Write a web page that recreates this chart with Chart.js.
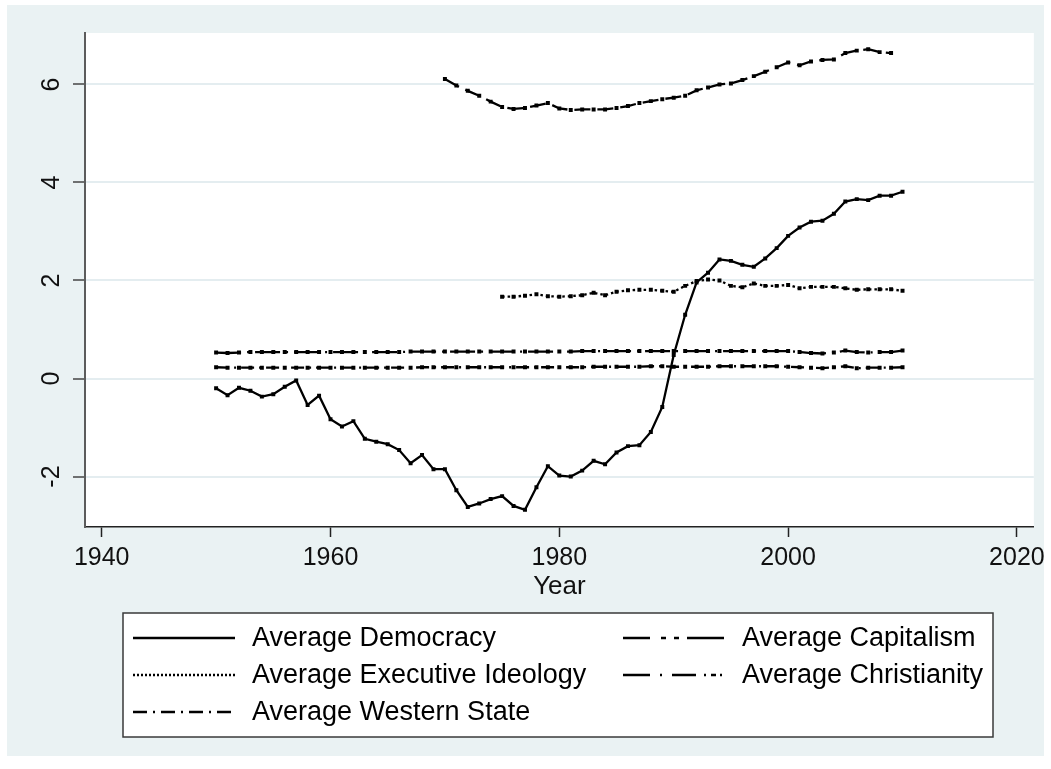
<!DOCTYPE html>
<html>
<head>
<meta charset="utf-8">
<script src="https://cdn.jsdelivr.net/npm/chart.js@4.4.1/dist/chart.umd.min.js"></script>
<style>
  html, body { margin: 0; padding: 0; background: #ffffff; }
  canvas { display: block; }
</style>
</head>
<body>
<canvas id="chart" width="1051" height="769"></canvas>
<script>
// Years covered by the full-length series
const years = [1950,1951,1952,1953,1954,1955,1956,1957,1958,1959,
               1960,1961,1962,1963,1964,1965,1966,1967,1968,1969,
               1970,1971,1972,1973,1974,1975,1976,1977,1978,1979,
               1980,1981,1982,1983,1984,1985,1986,1987,1988,1989,
               1990,1991,1992,1993,1994,1995,1996,1997,1998,1999,
               2000,2001,2002,2003,2004,2005,2006,2007,2008,2009,2010];

const democracy = [-0.20,-0.34,-0.19,-0.25,-0.37,-0.32,-0.17,-0.04,-0.54,-0.35,
                   -0.83,-0.98,-0.87,-1.23,-1.29,-1.34,-1.46,-1.73,-1.56,-1.85,
                   -1.85,-2.28,-2.62,-2.55,-2.46,-2.40,-2.60,-2.68,-2.22,-1.79,
                   -1.98,-2.00,-1.88,-1.68,-1.75,-1.51,-1.38,-1.36,-1.09,-0.58,
                    0.48, 1.30, 1.96, 2.16, 2.43, 2.40, 2.32, 2.28, 2.45, 2.66,
                    2.91, 3.08, 3.20, 3.22, 3.36, 3.61, 3.66, 3.64, 3.73, 3.73, 3.81];

const christianity = [0.53,0.52,0.53,0.54,0.54,0.54,0.54,0.54,0.54,0.54,
                      0.54,0.54,0.54,0.54,0.54,0.54,0.54,0.55,0.55,0.55,
                      0.55,0.55,0.55,0.55,0.55,0.55,0.55,0.55,0.55,0.55,
                      0.55,0.55,0.56,0.56,0.56,0.56,0.56,0.56,0.56,0.56,
                      0.56,0.56,0.56,0.56,0.56,0.56,0.56,0.56,0.56,0.56,
                      0.56,0.54,0.52,0.51,0.53,0.57,0.54,0.53,0.54,0.54,0.57];

const westernState = [0.23,0.22,0.22,0.22,0.22,0.22,0.22,0.22,0.22,0.22,
                      0.22,0.22,0.22,0.22,0.22,0.22,0.22,0.22,0.23,0.23,
                      0.23,0.23,0.23,0.23,0.23,0.23,0.23,0.23,0.23,0.23,
                      0.23,0.23,0.23,0.24,0.24,0.24,0.24,0.24,0.25,0.25,
                      0.24,0.24,0.24,0.24,0.25,0.25,0.25,0.25,0.25,0.25,
                      0.24,0.23,0.22,0.21,0.23,0.25,0.21,0.22,0.22,0.22,0.23];

const capitalismYears = [1970,1971,1972,1973,1974,1975,1976,1977,1978,1979,
                         1980,1981,1982,1983,1984,1985,1986,1987,1988,1989,
                         1990,1991,1992,1993,1994,1995,1996,1997,1998,1999,
                         2000,2001,2002,2003,2004,2005,2006,2007,2008,2009];
const capitalism = [6.11,5.98,5.87,5.77,5.65,5.54,5.50,5.52,5.57,5.62,
                    5.51,5.48,5.49,5.49,5.49,5.52,5.56,5.62,5.66,5.70,
                    5.73,5.77,5.88,5.94,6.00,6.02,6.09,6.17,6.26,6.35,
                    6.45,6.39,6.47,6.50,6.51,6.64,6.69,6.72,6.66,6.64];

const ideologyYears = [1975,1976,1977,1978,1979,1980,1981,1982,1983,1984,
                       1985,1986,1987,1988,1989,1990,1991,1992,1993,1994,
                       1995,1996,1997,1998,1999,2000,2001,2002,2003,2004,
                       2005,2006,2007,2008,2009,2010];
const executiveIdeology = [1.67,1.67,1.69,1.72,1.68,1.67,1.68,1.70,1.75,1.70,
                           1.77,1.80,1.81,1.81,1.79,1.77,1.89,1.99,2.02,2.00,
                           1.89,1.86,1.94,1.89,1.89,1.91,1.84,1.87,1.87,1.87,
                           1.84,1.81,1.82,1.82,1.82,1.79];

const xTicks = [1940, 1960, 1980, 2000, 2020];
const yTicks = [-2, 0, 2, 4, 6];
const seriesNames = ['Average Democracy', 'Average Capitalism', 'Average Executive Ideology',
                     'Average Christianity', 'Average Western State'];

// Line patterns: one for the plotted series, one for the short key samples
const plotDashes = [[], [16, 7], [2.5, 3], [25, 6, 2, 6], [13, 5, 2, 5]];
const keyDashes = [[], [27, 11, 5, 8, 5, 8, 40], [2, 2], [27, 10, 2, 10, 24, 8, 2, 5, 5, 4, 2], [14, 6, 2, 6]];

const FONT = '"Liberation Sans", Arial, Helvetica, sans-serif';

function points(xs, ys) {
  return xs.map((x, i) => ({ x: x, y: ys[i] }));
}

function series(i, data) {
  return {
    label: seriesNames[i],
    data: data,
    borderColor: '#000000',
    backgroundColor: '#000000',
    borderWidth: 2.3,
    borderDash: plotDashes[i],
    pointStyle: 'rect',
    pointRadius: 2.8,
    pointBorderWidth: 0,
    pointBackgroundColor: '#000000',
    tension: 0,
    fill: false
  };
}

// Panel backgrounds: white page, light blue-grey graph region, white plot region
const backdrop = {
  id: 'backdrop',
  beforeDraw(chart) {
    const ctx = chart.ctx, a = chart.chartArea;
    ctx.save();
    ctx.fillStyle = '#ffffff';
    ctx.fillRect(0, 0, chart.width, chart.height);
    ctx.fillStyle = '#EAF2F3';
    ctx.fillRect(7, 5, 1037, 751);
    ctx.fillStyle = '#ffffff';
    ctx.fillRect(a.left, a.top, a.right - a.left, a.bottom - a.top);
    ctx.restore();
  }
};

// Boxed two-column key under the axis title
const boxedKey = {
  id: 'boxedKey',
  afterDraw(chart) {
    const ctx = chart.ctx;
    const box = { left: 123, top: 613, right: 993, bottom: 737 };
    const rows = [638, 675, 712];
    const cols = [{ x0: 133, x1: 235, tx: 252 }, { x0: 623, x1: 724, tx: 742 }];
    const order = [[0, 0], [0, 1], [1, 0], [1, 1], [2, 0]];
    ctx.save();
    ctx.fillStyle = '#ffffff';
    ctx.fillRect(box.left, box.top, box.right - box.left, box.bottom - box.top);
    ctx.strokeStyle = '#3a3a3a';
    ctx.lineWidth = 1.5;
    ctx.strokeRect(box.left, box.top, box.right - box.left, box.bottom - box.top);
    ctx.font = '27px ' + FONT;
    ctx.textBaseline = 'middle';
    ctx.textAlign = 'left';
    ctx.fillStyle = '#000000';
    chart.data.datasets.forEach((ds, i) => {
      const [r, c] = order[i];
      const y = rows[r], col = cols[c];
      ctx.strokeStyle = ds.borderColor;
      ctx.lineWidth = 2.3;
      ctx.setLineDash(keyDashes[i]);
      ctx.beginPath();
      ctx.moveTo(col.x0, y);
      ctx.lineTo(col.x1, y);
      ctx.stroke();
      ctx.setLineDash([]);
      ctx.fillText(ds.label, col.tx, y + 1);
    });
    ctx.restore();
  }
};

new Chart(document.getElementById('chart'), {
  type: 'line',
  data: {
    datasets: [
      series(0, points(years, democracy)),
      series(1, points(capitalismYears, capitalism)),
      series(2, points(ideologyYears, executiveIdeology)),
      series(3, points(years, christianity)),
      series(4, points(years, westernState))
    ]
  },
  options: {
    animation: false,
    responsive: false,
    devicePixelRatio: 1,
    layout: { padding: { left: 0, top: 33, right: 15, bottom: 162 } },
    plugins: {
      legend: { display: false },
      tooltip: { enabled: false }
    },
    scales: {
      x: {
        type: 'linear',
        min: 1938.54,
        max: 2021.48,
        afterBuildTicks: s => { s.ticks = xTicks.map(v => ({ value: v })); },
        afterFit: s => { s.height = 80; },
        grid: { drawOnChartArea: false, drawTicks: true, tickLength: 10, tickColor: '#222222', tickWidth: 1.5 },
        border: { color: '#222222', width: 1.5 },
        ticks: {
          padding: 6, autoSkip: false, maxRotation: 0,
          color: '#111111', font: { family: FONT, size: 25 },
          callback: v => String(v)
        },
        title: {
          display: true, text: 'Year', color: '#111111',
          font: { family: FONT, size: 26 }, padding: { top: 0, bottom: 5 }
        }
      },
      y: {
        type: 'linear',
        min: -3.03,
        max: 7.05,
        afterBuildTicks: s => { s.ticks = yTicks.map(v => ({ value: v })); },
        afterFit: s => { s.width = 85; },
        grid: { color: '#E4EDF0', lineWidth: 2, tickColor: '#444444', tickLength: 12, tickWidth: 1.5 },
        border: { color: '#5c5c5c', width: 2 },
        ticks: {
          padding: 10, crossAlign: 'center', minRotation: 90, maxRotation: 90,
          color: '#111111', font: { family: FONT, size: 25 },
          callback: v => String(v)
        }
      }
    }
  },
  plugins: [backdrop, boxedKey]
});
</script>
</body>
</html>
